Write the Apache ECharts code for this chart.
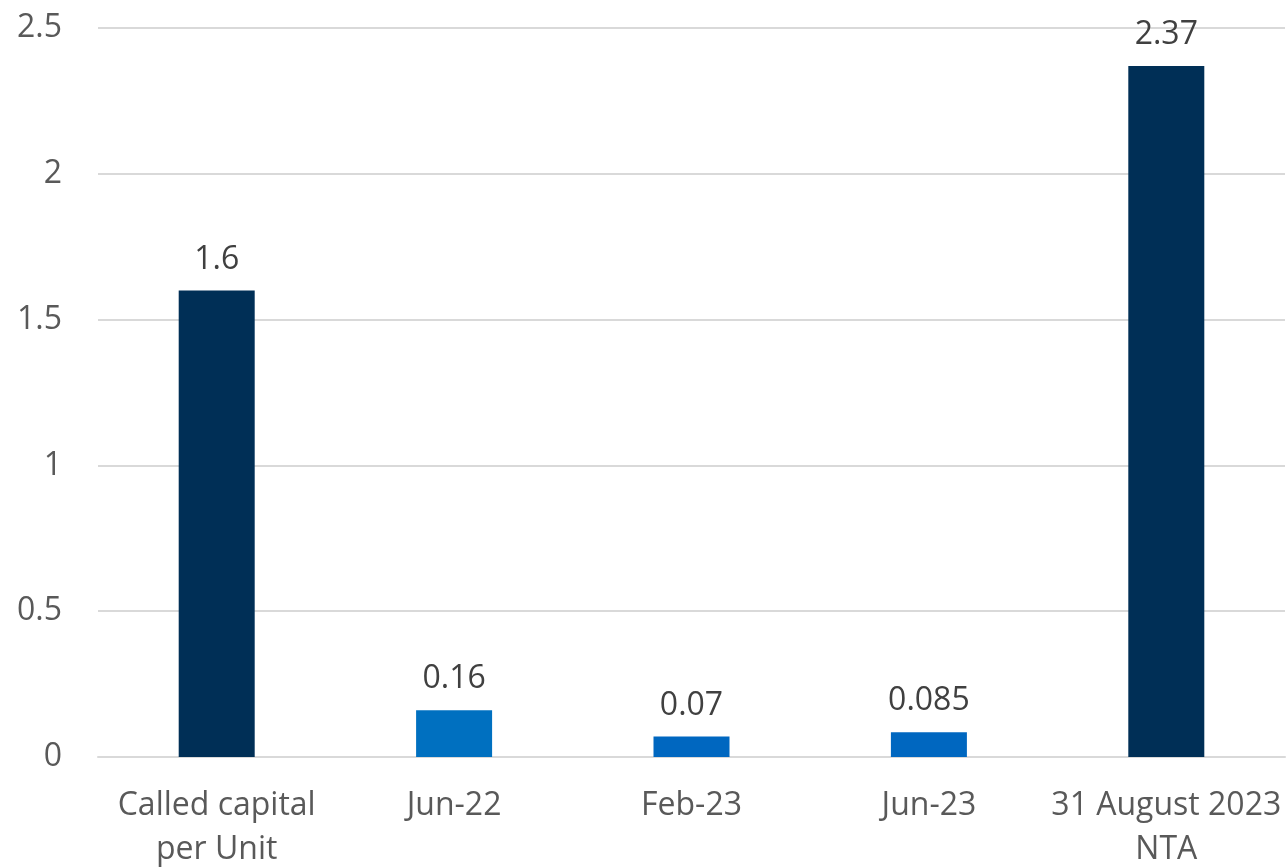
<!DOCTYPE html>
<html>
<head>
<meta charset="utf-8">
<style>
  html, body { margin: 0; padding: 0; background: #fff; }
  #chart { width: 1287px; height: 867px; }
</style>
<script src="https://cdn.jsdelivr.net/npm/echarts@6/dist/echarts.min.js"></script>
</head>
<body>
<div id="chart"></div>
<script>
// categories and values
var categories = ['Called capital\nper Unit', 'Jun-22', 'Feb-23', 'Jun-23', '31 August 2023\nNTA'];
var values = [1.6, 0.16, 0.07, 0.085, 2.37];
var barColors = ['#002F56', '#0070C0', '#0067C0', '#0067C0', '#002F56'];

var chart = echarts.init(document.getElementById('chart'));
var font = 'Open Sans';

chart.setOption({
    animation: false,
    grid: { left: 98, right: 2, top: 28, bottom: 110, outerBoundsMode: 'none' },
    xAxis: {
        type: 'category',
        data: categories,
        axisTick: { show: false },
        axisLine: { lineStyle: { color: '#D9D9D9', width: 2 } },
        axisLabel: {
            color: '#595959',
            fontFamily: font,
            fontSize: 32,
            lineHeight: 44,
            margin: 27,
            interval: 0
        }
    },
    yAxis: {
        type: 'value',
        min: 0,
        max: 2.5,
        interval: 0.5,
        axisLine: { show: false },
        axisTick: { show: false },
        splitLine: { lineStyle: { color: '#D9D9D9', width: 2 } },
        axisLabel: {
            color: '#595959',
            fontFamily: font,
            fontSize: 32,
            margin: 36
        }
    },
    series: [{
        type: 'bar',
        barWidth: 76,
        data: values.map(function (v, i) {
            return { value: v, itemStyle: { color: barColors[i] } };
        }),
        label: {
            show: true,
            position: 'top',
            distance: 15,
            color: '#404040',
            fontFamily: font,
            fontSize: 32
        }
    }]
});
</script>
</body>
</html>
